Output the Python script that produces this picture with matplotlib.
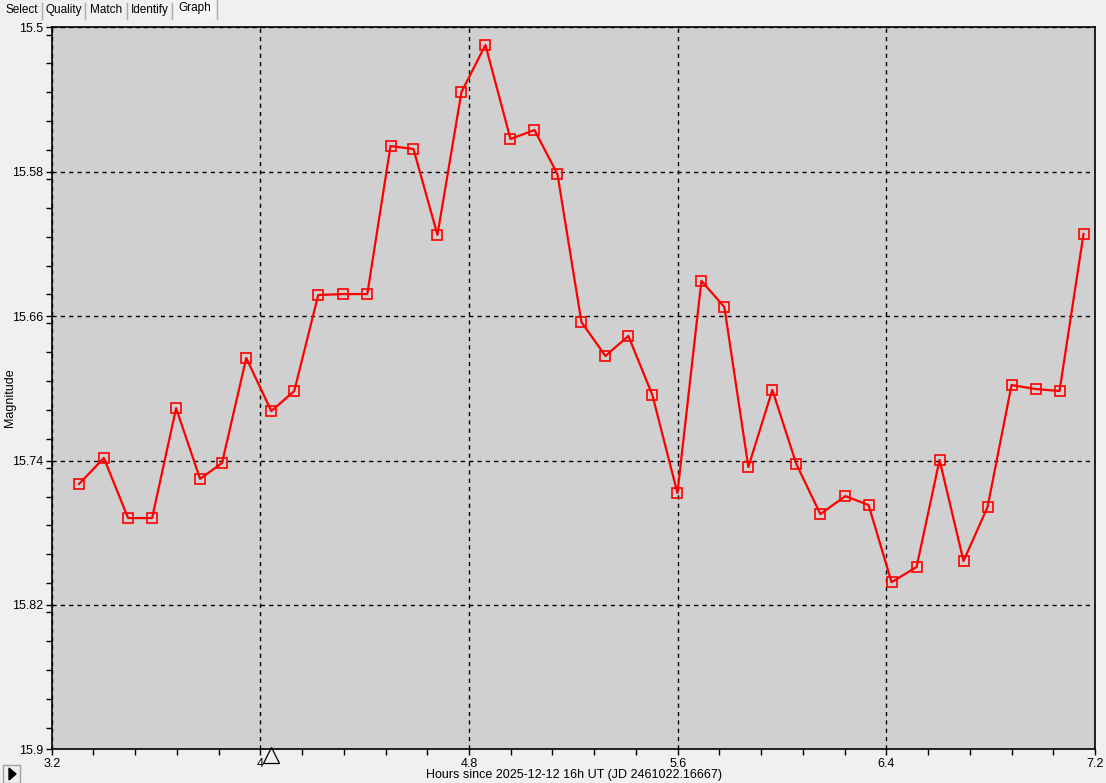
import matplotlib.pyplot as plt
import numpy as np
from matplotlib.lines import Line2D
from matplotlib.patches import Rectangle, Polygon
from matplotlib.ticker import MultipleLocator
import matplotlib.transforms as mtransforms

hours = [3.305, 3.400, 3.493, 3.585, 3.677, 3.769, 3.853, 3.946, 4.042, 4.130,
         4.222, 4.318, 4.410, 4.499, 4.587, 4.679, 4.771, 4.863, 4.959, 5.051,
         5.139, 5.231, 5.323, 5.411, 5.503, 5.599, 5.691, 5.779, 5.871, 5.963,
         6.055, 6.147, 6.243, 6.332, 6.420, 6.516, 6.604, 6.696, 6.788, 6.880,
         6.972, 7.064, 7.156]
mags = [15.753, 15.7386, 15.7719, 15.7719, 15.7110, 15.7502, 15.7414, 15.6832, 15.7126, 15.7015,
        15.6483, 15.6478, 15.6478, 15.5658, 15.5674, 15.6150, 15.5359, 15.5098, 15.5619, 15.5569,
        15.5813, 15.6633, 15.6821, 15.6710, 15.7037, 15.7580, 15.6405, 15.6550, 15.7436, 15.7009,
        15.7420, 15.7697, 15.7597, 15.7647, 15.8074, 15.7990, 15.7397, 15.7957, 15.7658, 15.6982,
        15.7004, 15.7015, 15.6145]
current_hour = 4.042
tabs = ["Select", "Quality", "Match", "Identify", "Graph"]
xlabel = "Hours since 2025-12-12 16h UT (JD 2461022.16667)"

W, H = 1106, 783
plt.rcParams['font.family'] = ['Liberation Sans', 'DejaVu Sans']
fig = plt.figure(figsize=(W / 100, H / 100), dpi=100, facecolor='#f0f0f0')

def fx(px):
    return px / W

def fy(py):
    return 1 - py / H

ax = fig.add_axes([fx(51.7), fy(749.3), fx(1095) - fx(51.7), fy(27.3) - fy(749.3)])
ax.set_facecolor('#d0d0d0')

ax.plot(hours, mags, color='#ff0000', lw=1.6, marker='s', ms=6.5,
        mfc='none', mec='#ff0000', mew=1.2, zorder=3)

ax.set_xlim(3.2, 7.2)
ax.set_ylim(15.9, 15.5)
ax.xaxis.set_minor_locator(MultipleLocator(0.16))
ax.yaxis.set_minor_locator(MultipleLocator(0.016))
ax.set_xticks([3.2, 4.0, 4.8, 5.6, 6.4, 7.2])
ax.set_xticklabels(["3.2", "4", "4.8", "5.6", "6.4", "7.2"])
ax.set_yticks([15.5, 15.58, 15.66, 15.74, 15.82, 15.9])
ax.set_yticklabels(["15.5", "15.58", "15.66", "15.74", "15.82", "15.9"])
ax.tick_params(which='both', direction='out', colors='black', labelsize=9, width=1)
ax.tick_params(which='major', length=4, pad=2)
ax.tick_params(which='minor', length=4)
ax.grid(which='major', color='black', linestyle=(0, (3, 3)), lw=1)
for s in ax.spines.values():
    s.set_linewidth(1.2)
    s.set_color('black')

fig.text(fx(574), fy(775), xlabel, fontsize=9, ha='center', va='center')
fig.text(fx(10), fy(398), "Magnitude", fontsize=9, ha='center', va='center', rotation=90)

# current point marker below the x axis
trans = mtransforms.blended_transform_factory(ax.transData, ax.transAxes)
ax.plot([current_hour], [-0.0075], marker='^', ms=12, mfc='none', mec='black',
        mew=0.9, transform=trans, clip_on=False)

# tab strip
tab_edges = [2, 42, 85, 127, 172, 217]
for i, name in enumerate(tabs):
    x0, x1 = tab_edges[i], tab_edges[i + 1]
    selected = name == "Graph"
    top = 0 if selected else 3
    fig.add_artist(Rectangle((fx(x0), fy(19)), fx(x1 - x0), fy(top) - fy(19),
                             transform=fig.transFigure, facecolor='#f5f5f5' if selected else '#f0f0f0',
                             edgecolor='none'))
    fig.add_artist(Line2D([fx(x1), fx(x1)], [fy(19), fy(top)], color='#a0a0a0', lw=1))
    fig.add_artist(Line2D([fx(x1) - 0.001, fx(x1) - 0.001], [fy(19), fy(top)], color='#e0e0e0', lw=1))
    fig.text(fx((x0 + x1) / 2), fy(10 if not selected else 8), name, fontsize=8.5,
             ha='center', va='center', color='black')

# play button bottom left
fig.add_artist(Rectangle((fx(3), fy(783)), fx(17), fy(765) - fy(783),
                         transform=fig.transFigure, facecolor='#f0f0f0', edgecolor='#a0a0a0', lw=1))
fig.add_artist(Polygon([[fx(9), fy(768)], [fx(9), fy(780)], [fx(16), fy(774)]],
                       closed=True, transform=fig.transFigure, facecolor='black', edgecolor='black'))

fig.savefig("out.png", dpi=100, facecolor=fig.get_facecolor())
